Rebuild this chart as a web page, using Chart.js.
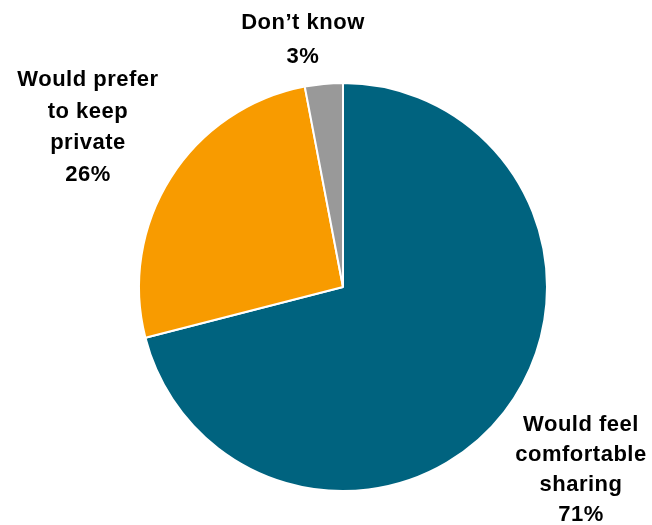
<!DOCTYPE html>
<html>
<head>
<meta charset="utf-8">
<script src="https://cdn.jsdelivr.net/npm/chart.js@4/dist/chart.umd.min.js"></script>
<style>
  html, body { margin: 0; padding: 0; background: #fff; }
  #wrap { width: 652px; height: 525px; position: relative; }
</style>
</head>
<body>
<div id="wrap"><canvas id="pieChart"></canvas></div>
<script>
const categories = ['Would feel comfortable sharing', 'Would prefer to keep private', "Don\u2019t know"];
const values = [71, 26, 3];
const labelLines = [
  ['Would feel', 'comfortable', 'sharing'],
  ['Would prefer', 'to keep', 'private'],
  ['Don\u2019t know']
];
const colors = ['#00637F', '#F89B00', '#999999'];

// label anchor (center x, first line y) and line height per slice
const labelSpots = [
  { x: 581, y: 425, lh: 30 },
  { x: 88, y: 80, lh: 31.7 },
  { x: 303, y: 23, lh: 34 }
];

const sliceLabels = {
  id: 'sliceLabels',
  afterDraw(chart) {
    const ctx = chart.ctx;
    ctx.save();
    ctx.fillStyle = '#000';
    ctx.font = 'bold 22px "Liberation Sans", Arial, sans-serif';
    ctx.letterSpacing = '0.5px';
    ctx.textAlign = 'center';
    ctx.textBaseline = 'middle';
    const data = chart.data.datasets[0].data;
    labelLines.forEach(function(lines, i) {
      const s = labelSpots[i];
      const all = lines.concat([data[i] + '%']);
      all.forEach(function(t, k) {
        ctx.fillText(t, s.x, s.y + k * s.lh);
      });
    });
    ctx.restore();
  }
};

document.addEventListener('DOMContentLoaded', function() {
  const ctx = document.getElementById('pieChart').getContext('2d');
  new Chart(ctx, {
    type: 'pie',
    data: {
      labels: categories,
      datasets: [{
        data: values,
        backgroundColor: colors,
        borderColor: '#ffffff',
        borderWidth: 2
      }]
    },
    options: {
      responsive: true,
      maintainAspectRatio: false,
      animation: false,
      layout: {
        padding: { top: 82, bottom: 33, left: 138, right: 104 }
      },
      plugins: {
        legend: { display: false },
        tooltip: { enabled: false }
      }
    },
    plugins: [sliceLabels]
  });
});
</script>
</body>
</html>
